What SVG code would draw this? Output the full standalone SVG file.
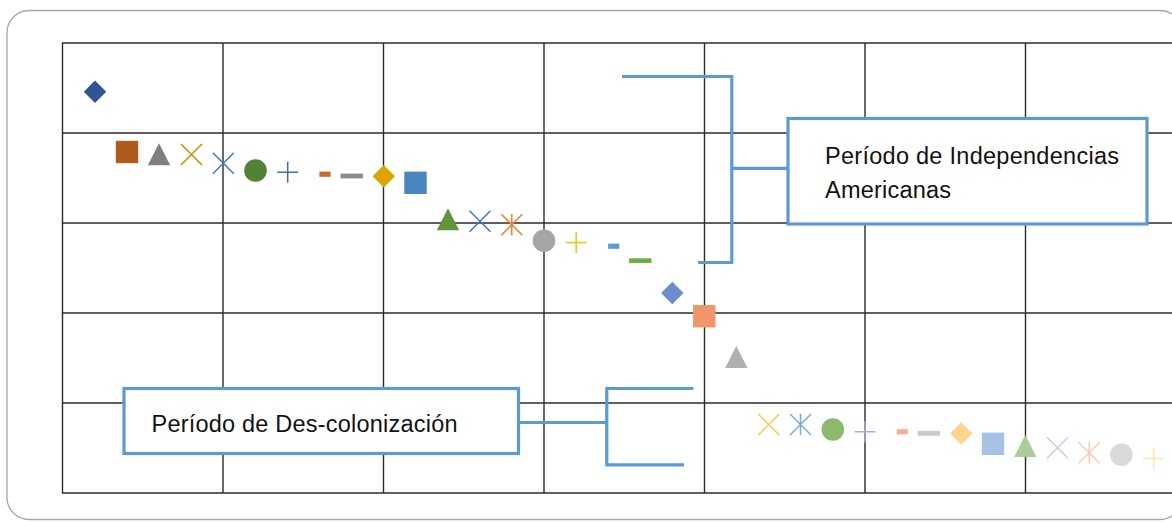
<svg xmlns="http://www.w3.org/2000/svg" xmlns:xlink="http://www.w3.org/1999/xlink" width="1172" height="522" viewBox="0 0 1172 522">
<style>
.frame{fill:#fff;stroke:#a6a6a6;stroke-width:1.3}
.grid line{stroke:#2a2a2a;stroke-width:1.4}
.bk{fill:none;stroke:#5b9bd5;stroke-width:3.2;stroke-linecap:butt;stroke-linejoin:miter}
.box{fill:#fff;stroke:#5b9bd5;stroke-width:3.2}
.lbl{font-family:"Liberation Sans",Arial,sans-serif;font-size:23.5px;fill:#111}
.ln{fill:none;stroke:currentColor;stroke-width:1.5}
.fl{fill:currentColor}
</style>
<defs>
<polygon id="dia" class="fl" points="0,-11.2 11.2,0 0,11.2 -11.2,0"/>
<rect id="sq" class="fl" x="-11.2" y="-11.2" width="22.4" height="22.4"/>
<polygon id="tri" class="fl" points="0,-11 11.2,11 -11.2,11"/>
<path id="xm" class="ln" d="M-10.5,-10.5L10.5,10.5M10.5,-10.5L-10.5,10.5"/>
<path id="st" class="ln" d="M-10.5,-10.5L10.5,10.5M10.5,-10.5L-10.5,10.5M0,-10.8V10.8"/>
<circle id="ci" class="fl" r="11.3"/>
<path id="pl" class="ln" d="M-10.5,0H10.5M0,-10.5V10.5"/>
<rect id="sd" class="fl" x="-5.6" y="-2.6" width="11.2" height="5.2"/>
<rect id="ld" class="fl" x="-11.2" y="-2.4" width="22.4" height="4.8"/>
</defs>
<rect class="frame" x="7" y="10.5" width="1175" height="509" rx="22" ry="22"/>
<g class="grid" id="grid">
<line x1="62.5" y1="43" x2="62.5" y2="493"/>
<line x1="223" y1="43" x2="223" y2="493"/>
<line x1="383.5" y1="43" x2="383.5" y2="493"/>
<line x1="544" y1="43" x2="544" y2="493"/>
<line x1="704.5" y1="43" x2="704.5" y2="493"/>
<line x1="865" y1="43" x2="865" y2="493"/>
<line x1="1025.5" y1="43" x2="1025.5" y2="493"/>
<line x1="62" y1="43" x2="1172" y2="43"/>
<line x1="62" y1="133" x2="1172" y2="133"/>
<line x1="62" y1="223" x2="1172" y2="223"/>
<line x1="62" y1="313" x2="1172" y2="313"/>
<line x1="62" y1="403" x2="1172" y2="403"/>
<line x1="62" y1="493" x2="1172" y2="493"/>
</g>
<g id="markers">
<use xlink:href="#dia" x="95" y="91.7" color="#2f5597"/>
<use xlink:href="#sq" x="127" y="152" color="#ae5a21"/>
<use xlink:href="#tri" x="159" y="154.3" color="#7f7f7f"/>
<use xlink:href="#xm" x="191.5" y="154.5" color="#bf9000"/>
<use xlink:href="#xm" x="223.3" y="163.3" color="#4a77b4"/>
<use xlink:href="#ci" x="255.5" y="170.5" color="#548235"/>
<use xlink:href="#pl" x="287.7" y="172.2" color="#446cb4"/>
<use xlink:href="#sd" x="325" y="174.2" color="#cc662d"/>
<use xlink:href="#ld" x="351.7" y="176" color="#8c8c8c"/>
<use xlink:href="#dia" x="383.8" y="176.2" color="#dba500"/>
<use xlink:href="#sq" x="415.5" y="182.8" color="#4a86bd"/>
<use xlink:href="#tri" x="448" y="219.3" color="#5e963a"/>
<use xlink:href="#xm" x="480" y="221.3" color="#4472c4"/>
<use xlink:href="#st" x="511.8" y="224.7" color="#ed7d31"/>
<use xlink:href="#ci" x="544" y="240.7" color="#a5a5a5"/>
<use xlink:href="#pl" x="576.2" y="242.5" color="#ffc000"/>
<use xlink:href="#sd" x="613.7" y="246.2" color="#5b9bd5"/>
<use xlink:href="#ld" x="640.3" y="260.7" color="#70ad47"/>
<use xlink:href="#dia" x="672.3" y="293" color="#6d8cce"/>
<use xlink:href="#sq" x="704.3" y="316.2" color="#f1956a"/>
<use xlink:href="#tri" x="736.3" y="357" color="#b0b0b0"/>
<use xlink:href="#xm" x="768.8" y="424.5" color="#ffc84a"/>
<use xlink:href="#st" x="800.5" y="424.5" color="#7ca9dd"/>
<use xlink:href="#ci" x="832.8" y="429.5" color="#8bb96e"/>
<use xlink:href="#pl" x="865" y="431.7" color="#9fb0dc"/>
<use xlink:href="#sd" x="902.2" y="431.8" color="#f3ae96"/>
<use xlink:href="#ld" x="928.8" y="433.3" color="#c9c9c9"/>
<use xlink:href="#dia" x="961.2" y="433.5" color="#ffd591"/>
<use xlink:href="#sq" x="993" y="443.8" color="#a5c2e5"/>
<use xlink:href="#tri" x="1025.3" y="446" color="#a9cc99"/>
<use xlink:href="#xm" x="1057.5" y="447.8" color="#c7ceec"/>
<use xlink:href="#st" x="1089.2" y="452.8" color="#f8cbb8"/>
<use xlink:href="#ci" x="1121.3" y="454.7" color="#dadada"/>
<use xlink:href="#pl" x="1153.7" y="458.5" color="#ffe3b0"/>
</g>
<g id="connectors">
<path class="bk" d="M622,76.5H731.8V262.5H698"/>
<path class="bk" d="M731.8,168.3H788"/>
<path class="bk" d="M693.5,388.5H606.8V464.8H684"/>
<path class="bk" d="M518.5,422.5H606.8"/>
</g>
<g id="node-independencias">
<rect class="box" x="788" y="118.5" width="359" height="105.5"/>
<text class="lbl" x="825" y="163.5" textLength="294" lengthAdjust="spacing">Período de Independencias</text>
<text class="lbl" x="825" y="197.5" textLength="126" lengthAdjust="spacing">Americanas</text>
</g>
<g id="node-descolonizacion">
<rect class="box" x="124" y="388.5" width="394.5" height="65"/>
<text class="lbl" x="151.5" y="431.5" textLength="306" lengthAdjust="spacing">Período de Des-colonización</text>
</g>
</svg>
